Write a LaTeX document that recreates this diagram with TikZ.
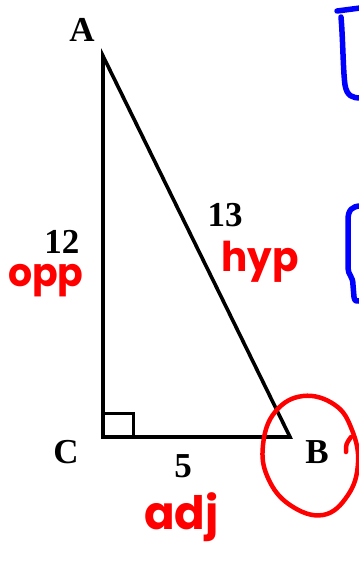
\documentclass[tikz,border=0pt]{standalone}
\usepackage{fontspec}
\setmainfont{Liberation Serif}
\newfontfamily\handfont{Poppins}
\definecolor{penred}{RGB}{255,0,0}
\definecolor{penblue}{RGB}{0,0,255}
\begin{document}
\begin{tikzpicture}[x=1pt,y=-1pt,
  tri/.style={line width=3.6pt, line join=miter, black},
  lab/.style={font=\fontsize{35}{40}\selectfont\bfseries, inner sep=0pt, anchor=center},
  hand/.style={font=\handfont\fontsize{#1}{#1}\selectfont\bfseries, text=penred, inner sep=0pt, anchor=base west},
  redpen/.style={line width=4.5pt, penred, line cap=round, line join=round},
  bluepen/.style={line width=5.5pt, penblue, line cap=round, line join=round}]
\useasboundingbox (0,0) rectangle (359,563);
\clip (0,0) rectangle (359,563);
\fill[white] (0,0) rectangle (359,563);
% triangle
\coordinate (A) at (103,56);
\coordinate (C) at (103,437);
\coordinate (B) at (290,437);
\draw[tri] (A) -- (C) -- (B) -- cycle;
\coordinate (R1) at (103,413);
\coordinate (R2) at (133,413);
\coordinate (R3) at (133,437);
\draw[line width=3pt] (R1) -- (R2) -- (R3);
% labels
\node[lab] (lA) at (82,30) {A};
\node[lab] (lC) at (66,452) {C};
\node[lab] (lB) at (317,452) {B};
\node[lab] (l12) at (62,242) {12};
\node[lab] (l13) at (225,215) {13};
\node[lab] (l5) at (183,466) {5};
% handwriting
\node[hand=35, xscale=1.08, yscale=1.12] (opp) at (8,286) {opp};
\node[hand=41, xscale=0.95] (hyp) at (221,271) {hyp};
\node[hand=46, xscale=0.98] (adj) at (144,529) {adj};
% red circle around B
\draw[redpen] plot[smooth cycle, tension=0.7] coordinates {(303,396) (335,405) (352,430) (358,463) (348,495) (323,515) (290,505) (268,478) (263,445) (275,412)};
\draw[redpen] (346,452) .. controls (346,444) .. (351,437);
% blue brackets
\draw[bluepen] (337,11) -- (360,8);
\draw[bluepen] (341,17) .. controls (343,40) and (343,70) .. (345,85) .. controls (347,96) and (352,98) .. (361,98);
\draw[bluepen] (361,206) .. controls (352,206) and (348,210) .. (348,220) -- (348,268) .. controls (348,275) and (353,276) .. (353,285) -- (354,297) .. controls (355,301) .. (359,301);
\end{tikzpicture}
\end{document}
